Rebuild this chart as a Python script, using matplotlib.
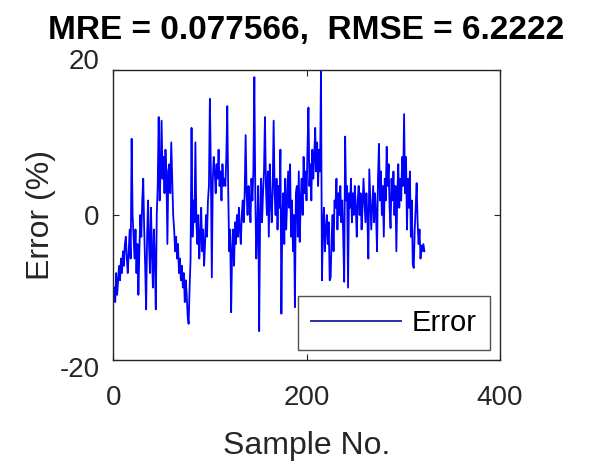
import matplotlib
matplotlib.use("Agg")
import matplotlib.pyplot as plt
import matplotlib.transforms as mtransforms
import numpy as np

plt.rcParams['font.family'] = ['Liberation Sans', 'DejaVu Sans']
plt.rcParams['axes.unicode_minus'] = False

title_text = "MRE = 0.077566,  RMSE = 6.2222"
x_label = "Sample No."
y_label = "Error (%)"
series_name = "Error"
x_ticks = [0, 200, 400]
y_ticks = [-20, 0, 20]

error_values = [
    -10, -12, -8, -11, -9, -7, -9, -6, -8, -5,
    -7, -4, -3, -6, -8, -5, -2, -6, 10.5, 0,
    -3, -6, -2, -8, -4, -11, -5, 0, -3, 2,
    5, -2, -7, -13, -3, 2, -4, -8, 1, -5,
    -10, -2, -6, -13, 0, 4, 13.5, 2, 6, 13,
    5, 8, 3, 9, 6, -4, 6, 7, 3, 10,
    5, 0, -2, -5, -3, -6, -4, -8, -6, -9,
    -7, -10, -8, -12, -9, -11, -14, -15, -10, -6,
    12, -3, 2, -1, 10, -1, -4, 0, -6, -3,
    1, -5, -2, -7, -4, 0, -3, 2, 4, 16,
    6, -8.6, 5, 8, 6, 3, 7, 5, 9, 4,
    6, 2, 7, 4, 5, 4, 8, 15, 3, -5,
    -2, -13.4, -5, -2, -7, -1, -4, 0, -3, 1,
    -2, -4, 0, 2, -1, 3, 11, 3, 0, 4,
    2, -1, 5, 2, 6, 19, 3, -6, -2, 4,
    -16, 0, 5, -1, 3, 6, 13.5, 4, 0, 6,
    -3, 7, 2, -1, 4, 13, 3, 0, 5, -2,
    4, 1, 9, -13.6, 0, 3, -4, 5, -2, 2,
    6, 1, 7, -3, 2, -5, 0, -12.7, 3, 4,
    -3, 6, -3.7, 2, 5, 0, 8, 3, 6, 2,
    9, 14.8, 4, 7, 2, 9, 5, 8, 12, 6,
    10, 4, 9, 6, 20, -9, -2, 1, -5, -2,
    0, -4, -1, -9, -8.6, -3, 0, -5, 2, 1,
    5, -2, 3, 0, 4, -1, 2, -3, -9.2, 10.8,
    2, 4, -10, 3, 1, 5, -1, 3, 0, 4,
    1, -3, 2, 4, 0, 3, -2, 1, 5, 2,
    -1, 3, 0, -6, 6.3, 2, -2, 1, 4, -1,
    3, 0, -5, 5, 9.8, 2, 6, 0, 4, -3,
    5, 2, 9.4, 4, 7, 1, -1.8, 5, 2, 6,
    0, 4, -5, 3, 7, 1, 5, 2, 8, 4,
    13.9, 3, 8, -2, 5, 1, 6, -3, 2, -6.8,
    -7.3, -2, 1, 4.4, -1, -4, -2, -6, -4.2, -5,
    -4, -5,
]
sample_no = list(range(1, len(error_values) + 1))

fig = plt.figure(figsize=(5.9, 4.72), dpi=100)
ax = fig.add_axes([0.192, 0.237, 0.655, 0.615])

ax.plot(sample_no, error_values, color=(0, 0, 1), linewidth=1.3, label=series_name)

ax.set_xlim(0, 400)
ax.set_ylim(-20, 20)
ax.set_xticks(x_ticks)
ax.set_yticks(y_ticks)
ax.tick_params(direction='in', length=4, width=0.8, top=True, right=True,
               labelsize=20, colors='#262626', pad=10)
ax.tick_params(axis='x', pad=18)
for sp in ax.spines.values():
    sp.set_linewidth(1.0)
    sp.set_color('#262626')

# MATLAB-like placement of the end tick labels
ylabels = ax.get_yticklabels()
ylabels[0].set_transform(ylabels[0].get_transform() +
                         mtransforms.ScaledTranslation(0, -5 / 72, fig.dpi_scale_trans))
ylabels[-1].set_transform(ylabels[-1].get_transform() +
                          mtransforms.ScaledTranslation(0, 8 / 72, fig.dpi_scale_trans))

ax.set_xlabel(x_label, fontsize=23, color='#262626', labelpad=14)
ax.set_ylabel(y_label, fontsize=23, color='#262626', labelpad=2)
ax.set_title(title_text, fontsize=24, fontweight='bold', pad=22)

leg = ax.legend(loc='lower right', fontsize=21, frameon=True, fancybox=False,
                handlelength=3.1, borderaxespad=0.35, borderpad=0.45,
                handletextpad=0.35)
leg.get_frame().set_edgecolor('#262626')
leg.get_frame().set_linewidth(1.0)
leg.legend_handles[0].set_color('#1a1aa0')

fig.savefig("out.png", dpi=100)
